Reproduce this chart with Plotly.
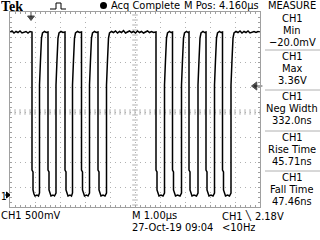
import plotly.graph_objects as go

# ---------------- data (time in ns from left edge, volts) ----------------
t_ns = [
    0, 80, 160, 240, 320, 400, 480, 560, 640, 720, 800, 880,
    880, 920, 920, 960, 1000, 1080, 1140,
    1180, 1180, 1220, 1260, 1300, 1380, 1450, 1520,
    1520, 1560, 1560, 1600, 1640, 1720, 1780,
    1840, 1840, 1880, 1920, 1960, 2040, 2120, 2200,
    2200, 2240, 2240, 2280, 2320, 2400, 2460,
    2500, 2500, 2540, 2580, 2620, 2700, 2780, 2860,
    2860, 2900, 2900, 2940, 2980, 3060, 3120,
    3180, 3180, 3220, 3260, 3300, 3380, 3450, 3520,
    3520, 3560, 3560, 3600, 3640, 3720, 3800,
    3860, 3860, 3900, 3940, 3980, 4060, 4140, 4220, 4300, 4380, 4460, 4540,
    4620, 4700, 4780, 4860, 4940, 5020, 5100, 5180, 5260, 5340, 5420, 5500,
    5580, 5660, 5740, 5840,
    5840, 5880, 5880, 5920, 5960, 6040, 6120,
    6180, 6180, 6220, 6260, 6300, 6380, 6440, 6500,
    6500, 6540, 6540, 6580, 6620, 6700, 6800,
    6860, 6860, 6900, 6940, 6980, 7060, 7120, 7160,
    7160, 7200, 7200, 7240, 7280, 7360, 7460,
    7520, 7520, 7560, 7600, 7640, 7720, 7780, 7840,
    7840, 7880, 7880, 7920, 7960, 8040, 8120,
    8180, 8180, 8220, 8260, 8300, 8380, 8440, 8500,
    8500, 8540, 8540, 8580, 8620, 8700, 8780,
    8840, 8840, 8880, 8920, 8960, 9040, 9120, 9200, 9280, 9360, 9440, 9520,
    9600, 9680, 9760, 9840, 9920, 10000,
]
v_volts = [
    3.26, 3.28, 3.24, 3.27, 3.25, 3.28, 3.24, 3.26, 3.27, 3.24, 3.27, 3.26,
    0.50, 0.46, 0.10, 0.02, -0.02, 0.00, -0.02,
    0.04, 2.20, 2.70, 3.14, 3.24, 3.27, 3.25, 3.26,
    0.50, 0.46, 0.10, 0.02, -0.02, 0.00, -0.02,
    0.04, 2.20, 2.70, 3.14, 3.24, 3.27, 3.25, 3.26,
    0.50, 0.46, 0.10, 0.02, -0.02, 0.00, -0.02,
    0.04, 2.20, 2.70, 3.14, 3.24, 3.27, 3.25, 3.26,
    0.50, 0.46, 0.10, 0.02, -0.02, 0.00, -0.02,
    0.04, 2.20, 2.70, 3.14, 3.24, 3.27, 3.25, 3.26,
    0.50, 0.46, 0.10, 0.02, -0.02, 0.00, -0.02,
    0.04, 2.20, 2.70, 3.14, 3.24, 3.27, 3.25, 3.28, 3.24, 3.27, 3.25, 3.29,
    3.24, 3.26, 3.28, 3.25, 3.27, 3.24, 3.28, 3.25, 3.27, 3.24, 3.26, 3.28,
    3.25, 3.27, 3.25, 3.26,
    0.50, 0.46, 0.10, 0.02, -0.02, 0.00, -0.02,
    0.04, 2.20, 2.70, 3.14, 3.24, 3.27, 3.25, 3.26,
    0.50, 0.46, 0.10, 0.02, -0.02, 0.00, -0.02,
    0.04, 2.20, 2.70, 3.14, 3.24, 3.27, 3.25, 3.26,
    0.50, 0.46, 0.10, 0.02, -0.02, 0.00, -0.02,
    0.04, 2.20, 2.70, 3.14, 3.24, 3.27, 3.25, 3.26,
    0.50, 0.46, 0.10, 0.02, -0.02, 0.00, -0.02,
    0.04, 2.20, 2.70, 3.14, 3.24, 3.27, 3.25, 3.26,
    0.50, 0.46, 0.10, 0.02, -0.02, 0.00, -0.02,
    0.04, 2.20, 2.70, 3.14, 3.24, 3.27, 3.25, 3.28, 3.24, 3.27, 3.25, 3.28,
    3.24, 3.26, 3.27, 3.25, 3.27, 3.26,
]

trigger_time_ns = 840
trigger_level_v = 2.18
ground_v = 0.0

meas_channel = ["CH1", "CH1", "CH1", "CH1", "CH1"]
meas_names = ["Min", "Max", "Neg Width", "Rise Time", "Fall Time"]
meas_values = ["\u221220.0mV", "3.36V", "332.0ns", "45.71ns", "47.46ns"]

# ---------------- layout geometry ----------------
W, H = 320, 240
L, R, T, B = 10, 60, 12, 33
X_RANGE = [0, 10000]
Y_RANGE = [-0.24, 3.66]
CENTER_T = 5000
CENTER_V = 1.66

FONT = "Liberation Sans Narrow, DejaVu Sans Condensed, Arial Narrow, sans-serif"
GRID = "#b0b0b0"
BORDER = "#a0a0a0"


def px(x):
    return (x - L) / (W - L - R)


def py(y):
    return (H - B - y) / (H - T - B)


def vy(v):
    # volts -> paper y
    return (v - Y_RANGE[0]) / (Y_RANGE[1] - Y_RANGE[0])


fig = go.Figure()

# center crosshair tick marks
fig.add_trace(go.Scatter(
    x=[CENTER_T] * 39, y=[Y_RANGE[0] + 0.04 + 0.1 * i for i in range(39)],
    mode="markers", hoverinfo="skip", showlegend=False,
    marker=dict(symbol="line-ew", size=4, line=dict(color=GRID, width=1)),
))
fig.add_trace(go.Scatter(
    x=[200 * i for i in range(51)], y=[CENTER_V] * 51,
    mode="markers", hoverinfo="skip", showlegend=False,
    marker=dict(symbol="line-ns", size=4, line=dict(color=GRID, width=1)),
))

# waveform
fig.add_trace(go.Scatter(
    x=t_ns, y=v_volts, mode="lines", showlegend=False,
    line=dict(color="black", width=1.5),
))

# markers: trigger position, trigger level
fig.add_trace(go.Scatter(
    x=[trigger_time_ns, trigger_time_ns], y=[3.62, 3.55],
    mode="markers", showlegend=False, cliponaxis=False,
    marker=dict(symbol=["line-ns", "triangle-down"], size=[4, 6], color="black",
                line=dict(color="black", width=1)),
))
fig.add_trace(go.Scatter(
    x=[9930, 9800], y=[trigger_level_v, trigger_level_v],
    mode="markers", showlegend=False, cliponaxis=False,
    marker=dict(symbol=["line-ew", "triangle-left"], size=[6, 7], color="black",
                line=dict(color="black", width=1)),
))

axis_common = dict(
    showline=True, linecolor=BORDER, linewidth=1, mirror="ticks",
    ticks="inside", ticklen=2, tickcolor=BORDER, tickwidth=1,
    showticklabels=False, zeroline=False,
    showgrid=True, gridcolor=GRID, gridwidth=1, griddash="1px,4px",
    fixedrange=True,
)
fig.update_xaxes(range=X_RANGE, tick0=0, dtick=1000,
                 minor=dict(dtick=200, ticks="inside", ticklen=2, tickcolor=BORDER, showgrid=False),
                 **axis_common)
fig.update_yaxes(range=Y_RANGE, tick0=CENTER_V, dtick=0.5,
                 minor=dict(tick0=CENTER_V, dtick=0.1, ticks="inside", ticklen=2, tickcolor=BORDER, showgrid=False),
                 **axis_common)

ann = []


def text(x, y, s, anchor="left", size=11, family=FONT, h=11):
    ann.append(dict(x=px(x), y=py(y), xref="paper", yref="paper", text=s,
                    showarrow=False, xanchor=anchor, yanchor="middle",
                    height=h, borderpad=0,
                    font=dict(family=family, size=size, color="black")))


# top row
text(-0.5, 6, "<b>Tek</b>", size=14, family="Liberation Serif, DejaVu Serif, serif", h=12)
text(110, 5.5, "Acq Complete")
text(183, 5.5, "M Pos: 4.160\u00b5s")
text(292, 5.5, "MEASURE", anchor="center")

# bottom rows
text(0, 215.5, "CH1")
text(24, 215.5, "500mV")
text(131, 215.5, "M 1.00\u00b5s")
text(221, 215.5, "CH1 \u2572 2.18V")
text(131, 227, "27-Oct-19 09:04")
text(221, 227, "&lt;10Hz")

# ground label
text(0, 195.5, "1", size=10, h=10)

# measurement panel
box_tops = [12, 50, 90, 131, 171]
for i in range(5):
    top = box_tops[i]
    text(292, top + 6.5, meas_channel[i], anchor="center")
    text(292, top + 18.5, meas_names[i], anchor="center")
    text(292, top + 30.5, meas_values[i], anchor="center")

shapes = []
for top in box_tops[1:]:
    shapes.append(dict(type="line", xref="paper", yref="paper",
                       x0=px(265), x1=px(320), y0=py(top), y1=py(top),
                       line=dict(color="#b0b0b0", width=1)))

# ground marker arrow (outside the plot area, left)
gy = vy(ground_v)
dy = 3 / (H - T - B)
shapes.append(dict(type="path", xref="paper", yref="paper",
                   path=(f"M {px(6.5)},{gy + dy} L {px(10)},{gy} L {px(6.5)},{gy - dy} Z"),
                   fillcolor="black", line=dict(color="black", width=1)))
shapes.append(dict(type="line", xref="paper", yref="paper",
                   x0=px(5), x1=px(7), y0=gy, y1=gy,
                   line=dict(color="black", width=1)))

# acquisition dot
shapes.append(dict(type="circle", xref="paper", yref="paper",
                   x0=px(100), x1=px(107), y0=py(9), y1=py(2),
                   fillcolor="black", line=dict(color="black", width=0)))
# small pulse icon
shapes.append(dict(type="path", xref="paper", yref="paper",
                   path=(f"M {px(50)},{py(9)} L {px(56)},{py(9)} L {px(56)},{py(3)} "
                         f"L {px(61)},{py(3)} L {px(61)},{py(9)} L {px(66)},{py(9)}"),
                   line=dict(color="black", width=1)))

fig.update_layout(
    width=W, height=H,
    margin=dict(l=L, r=R, t=T, b=B, pad=0),
    paper_bgcolor="white", plot_bgcolor="white",
    annotations=ann, shapes=shapes,
    showlegend=False,
)

fig.write_html("out.html", config={"displayModeBar": False})
